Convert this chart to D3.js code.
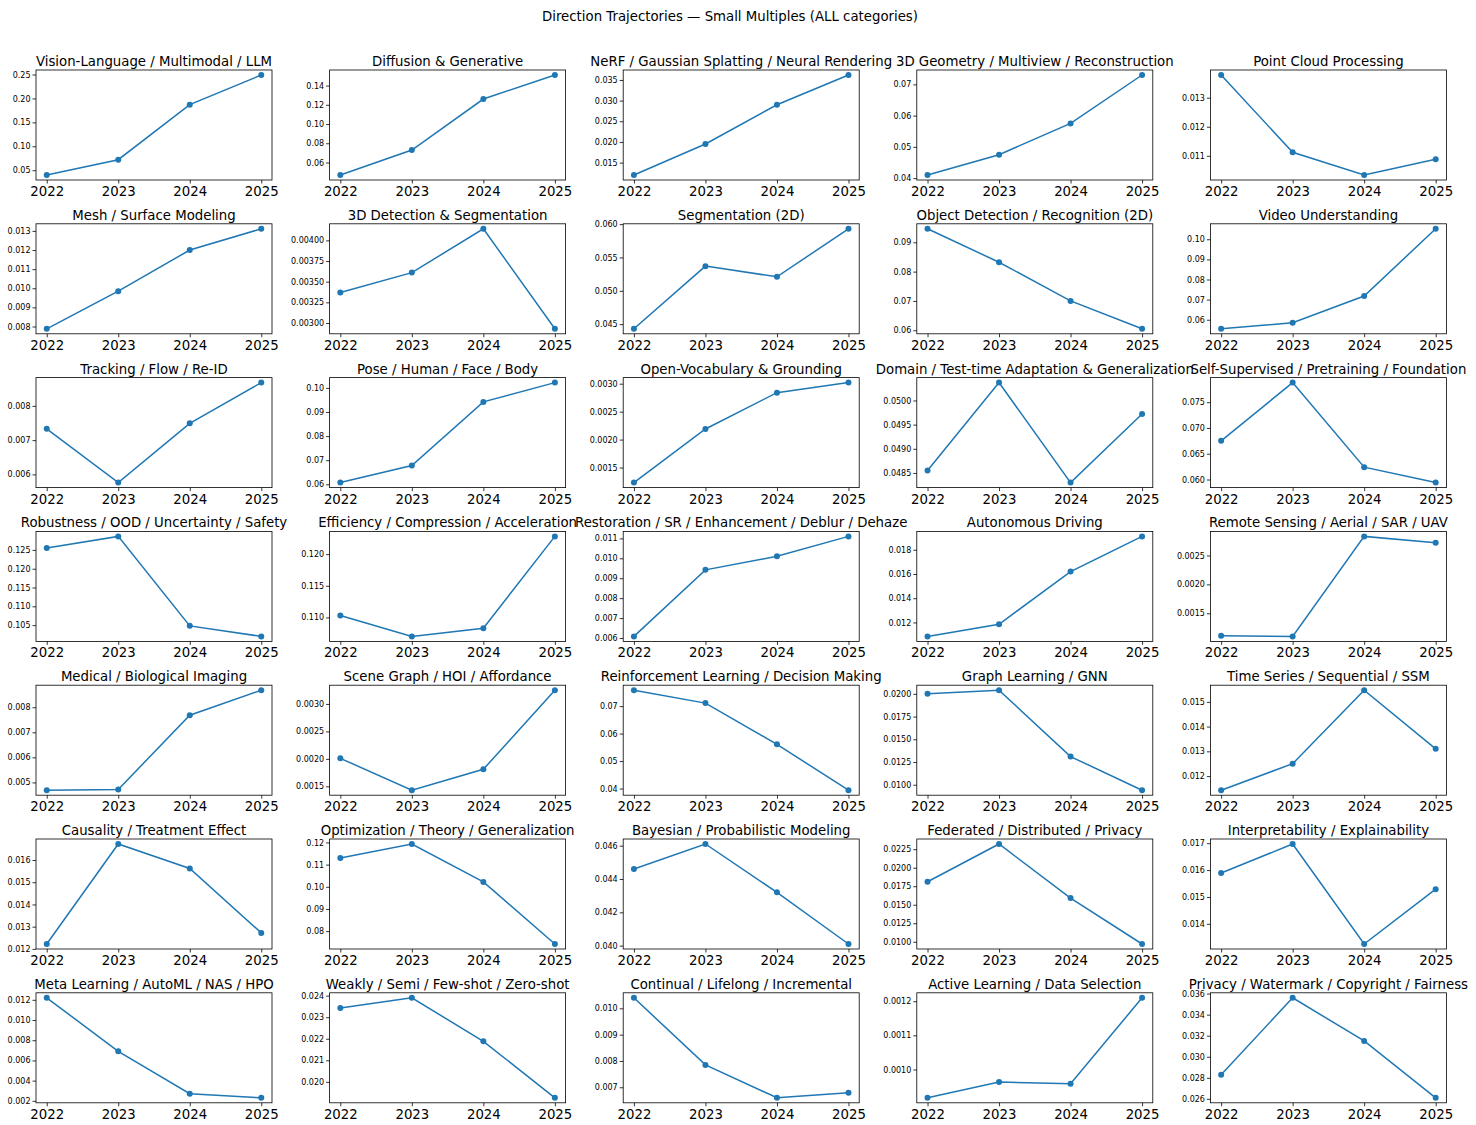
<!DOCTYPE html>
<html>
<head>
<meta charset="utf-8">
<script src="https://cdn.jsdelivr.net/npm/d3@7"></script>
<style>
  body { margin: 0; background: #fff; }
  svg { display: block; font-family: "DejaVu Sans", sans-serif; }
</style>
</head>
<body>
<svg id="chart" width="1476" height="1125"></svg>
<script>
// Small multiples of direction trajectories

const years = [2022, 2023, 2024, 2025];

const categories = [
  "Vision-Language / Multimodal / LLM", "Diffusion & Generative",
  "NeRF / Gaussian Splatting / Neural Rendering", "3D Geometry / Multiview / Reconstruction",
  "Point Cloud Processing",
  "Mesh / Surface Modeling", "3D Detection & Segmentation", "Segmentation (2D)",
  "Object Detection / Recognition (2D)", "Video Understanding",
  "Tracking / Flow / Re-ID", "Pose / Human / Face / Body", "Open-Vocabulary & Grounding",
  "Domain / Test-time Adaptation & Generalization", "Self-Supervised / Pretraining / Foundation",
  "Robustness / OOD / Uncertainty / Safety", "Efficiency / Compression / Acceleration",
  "Restoration / SR / Enhancement / Deblur / Dehaze", "Autonomous Driving",
  "Remote Sensing / Aerial / SAR / UAV",
  "Medical / Biological Imaging", "Scene Graph / HOI / Affordance",
  "Reinforcement Learning / Decision Making", "Graph Learning / GNN",
  "Time Series / Sequential / SSM",
  "Causality / Treatment Effect", "Optimization / Theory / Generalization",
  "Bayesian / Probabilistic Modeling", "Federated / Distributed / Privacy",
  "Interpretability / Explainability",
  "Meta Learning / AutoML / NAS / HPO", "Weakly / Semi / Few-shot / Zero-shot",
  "Continual / Lifelong / Incremental", "Active Learning / Data Selection",
  "Privacy / Watermark / Copyright / Fairness"
];

// share per year, one row per category
const values = [
  [0.040, 0.072, 0.187, 0.249],
  [0.047, 0.073, 0.126, 0.151],
  [0.0120, 0.0195, 0.0290, 0.0362],
  [0.041, 0.0475, 0.0575, 0.073],
  [0.01378, 0.01112, 0.01034, 0.01088],
  [0.00788, 0.00985, 0.0120, 0.01311],
  [0.00337, 0.00361, 0.00414, 0.00293],
  [0.0443, 0.0537, 0.0521, 0.0593],
  [0.0946, 0.0832, 0.0700, 0.0605],
  [0.0555, 0.0585, 0.0718, 0.1052],
  [0.00733, 0.00576, 0.00749, 0.00868],
  [0.0607, 0.0678, 0.0942, 0.1022],
  [0.00123, 0.00219, 0.00284, 0.00302],
  [0.04855, 0.05037, 0.04830, 0.04972],
  [0.0675, 0.0788, 0.0624, 0.0594],
  [0.1255, 0.1286, 0.1048, 0.1020],
  [0.1103, 0.1070, 0.1083, 0.1228],
  [0.00608, 0.00942, 0.01010, 0.01110],
  [0.01085, 0.01185, 0.0162, 0.0191],
  [0.00111, 0.00110, 0.00283, 0.00272],
  [0.00469, 0.00472, 0.00768, 0.00868],
  [0.00201, 0.00143, 0.00181, 0.00325],
  [0.0758, 0.0711, 0.0561, 0.0394],
  [0.0200, 0.0204, 0.0131, 0.0094],
  [0.01143, 0.01250, 0.01547, 0.01310],
  [0.01222, 0.01672, 0.01562, 0.01272],
  [0.1130, 0.1193, 0.1022, 0.0742],
  [0.0446, 0.0461, 0.0432, 0.0401],
  [0.0181, 0.0232, 0.0159, 0.0097],
  [0.01589, 0.01697, 0.01325, 0.01529],
  [0.0122, 0.0069, 0.0027, 0.0023],
  [0.02343, 0.02390, 0.02188, 0.01926],
  [0.01040, 0.00785, 0.00660, 0.00679],
  [0.000917, 0.000963, 0.000958, 0.001210],
  [0.0283, 0.0356, 0.0315, 0.0261]
];

// y tick labels as printed on each panel
const yTicks = [
  ["0.05", "0.10", "0.15", "0.20", "0.25"],
  ["0.06", "0.08", "0.10", "0.12", "0.14"],
  ["0.015", "0.020", "0.025", "0.030", "0.035"],
  ["0.04", "0.05", "0.06", "0.07"],
  ["0.011", "0.012", "0.013"],
  ["0.008", "0.009", "0.010", "0.011", "0.012", "0.013"],
  ["0.00300", "0.00325", "0.00350", "0.00375", "0.00400"],
  ["0.045", "0.050", "0.055", "0.060"],
  ["0.06", "0.07", "0.08", "0.09"],
  ["0.06", "0.07", "0.08", "0.09", "0.10"],
  ["0.006", "0.007", "0.008"],
  ["0.06", "0.07", "0.08", "0.09", "0.10"],
  ["0.0015", "0.0020", "0.0025", "0.0030"],
  ["0.0485", "0.0490", "0.0495", "0.0500"],
  ["0.060", "0.065", "0.070", "0.075"],
  ["0.105", "0.110", "0.115", "0.120", "0.125"],
  ["0.110", "0.115", "0.120"],
  ["0.006", "0.007", "0.008", "0.009", "0.010", "0.011"],
  ["0.012", "0.014", "0.016", "0.018"],
  ["0.0015", "0.0020", "0.0025"],
  ["0.005", "0.006", "0.007", "0.008"],
  ["0.0015", "0.0020", "0.0025", "0.0030"],
  ["0.04", "0.05", "0.06", "0.07"],
  ["0.0100", "0.0125", "0.0150", "0.0175", "0.0200"],
  ["0.012", "0.013", "0.014", "0.015"],
  ["0.012", "0.013", "0.014", "0.015", "0.016"],
  ["0.08", "0.09", "0.10", "0.11", "0.12"],
  ["0.040", "0.042", "0.044", "0.046"],
  ["0.0100", "0.0125", "0.0150", "0.0175", "0.0200", "0.0225"],
  ["0.014", "0.015", "0.016", "0.017"],
  ["0.002", "0.004", "0.006", "0.008", "0.010", "0.012"],
  ["0.020", "0.021", "0.022", "0.023", "0.024"],
  ["0.007", "0.008", "0.009", "0.010"],
  ["0.0010", "0.0011", "0.0012"],
  ["0.026", "0.028", "0.030", "0.032", "0.034", "0.036"]
];

const svg = d3.select("#chart");
const nCols = 5;
const left0 = 36, top0 = 70;
const colStep = 293.6, rowStep = 153.8;
const w = 236, h = 110;
const color = "#1f77b4";

svg.append("text")
  .attr("x", 730).attr("y", 21)
  .attr("text-anchor", "middle")
  .attr("font-size", 13.3)
  .text("Direction Trajectories \u2014 Small Multiples (ALL categories)");

categories.forEach((name, i) => {
  const col = i % nCols, row = Math.floor(i / nCols);
  const g = svg.append("g")
    .attr("transform", `translate(${left0 + col * colStep},${top0 + row * rowStep})`);

  const vals = values[i];
  const ext = d3.extent(vals);
  const pad = (ext[1] - ext[0]) * 0.05;

  // matplotlib-style 5% margins
  const x = d3.scaleLinear().domain([2021.85, 2025.15]).range([0, w]);
  const y = d3.scaleLinear().domain([ext[0] - pad, ext[1] + pad]).range([h, 0]);

  const xAxis = d3.axisBottom(x).tickValues(years).tickFormat(d3.format("d")).tickSize(3.5).tickPadding(3);
  const yAxis = d3.axisLeft(y)
    .tickValues(yTicks[i].map(Number))
    .tickFormat((d, k) => yTicks[i][k])
    .tickSize(3.5).tickPadding(2);

  const gx = g.append("g").attr("transform", `translate(0,${h})`).call(xAxis);
  gx.select(".domain").remove();
  gx.selectAll("text").attr("font-size", 13.3).attr("fill", "#000").attr("font-family", "DejaVu Sans");
  gx.selectAll("line").attr("stroke", "#000").attr("stroke-width", 0.8);

  const gy = g.append("g").call(yAxis);
  gy.select(".domain").remove();
  gy.selectAll("text").attr("font-size", 8).attr("fill", "#000").attr("font-family", "DejaVu Sans");
  gy.selectAll("line").attr("stroke", "#000").attr("stroke-width", 0.8);

  const line = d3.line().x((d, k) => x(years[k])).y(d => y(d));
  g.append("path")
    .datum(vals)
    .attr("d", line)
    .attr("fill", "none")
    .attr("stroke", color)
    .attr("stroke-width", 1.5);

  g.selectAll("circle")
    .data(vals)
    .join("circle")
    .attr("cx", (d, k) => x(years[k]))
    .attr("cy", d => y(d))
    .attr("r", 3)
    .attr("fill", color);

  g.append("rect")
    .attr("width", w).attr("height", h)
    .attr("fill", "none")
    .attr("stroke", "#000")
    .attr("stroke-width", 0.8);

  g.append("text")
    .attr("x", w / 2).attr("y", -4)
    .attr("text-anchor", "middle")
    .attr("font-size", 13.3)
    .text(name);
});
</script>
</body>
</html>
